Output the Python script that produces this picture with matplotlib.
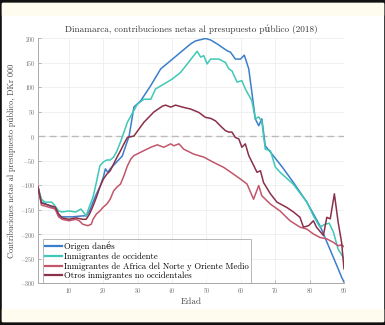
"""Dinamarca: contribuciones netas al presupuesto público por edad (2018)."""
import matplotlib
matplotlib.use("Agg")
import matplotlib.pyplot as plt
from matplotlib.patches import Rectangle

# ── data ──────────────────────────────────────────────────────────────────────
age_dk = [1, 2, 4, 6, 7, 8, 11, 14, 15, 16, 17, 18, 19, 20, 20.6, 21.3, 22, 25.5,
          27.5, 28.9, 30.9, 33.8, 36.7, 39.6, 42.5, 45.4, 46.8, 49.7, 51.2, 53.1,
          56, 57, 58.4, 59.9, 61, 62.3, 63.2, 64.2, 65.2, 66.1, 67.1, 69.4, 72,
          75.2, 79.2, 83, 85.9, 88.3, 89.3, 90]
val_dk = [-104, -135, -141, -149, -163, -165, -165, -163, -163, -153, -135, -118,
          -104, -84, -67, -74, -67, -41, 0, 59, 72, 103, 137, 154, 171, 188, 194,
          199, 196, 188, 174, 171, 157, 157, 165, 137, 89, 35, 21, 35, -20, -40,
          -63, -94, -135, -183, -231, -271, -288, -298]

age_occ = [1, 2, 3, 5, 6, 7, 8, 10, 12, 13.5, 15, 16, 17, 18, 19, 20, 21, 22, 23,
           24, 25, 26, 27, 29.9, 31.8, 33.8, 35.2, 37.6, 40, 42.5, 44.4, 46.3,
           47.3, 48.3, 49.2, 50.2, 51.2, 53.6, 55.5, 56.5, 57.4, 58.9, 60.3,
           61.3, 63.2, 64.2, 65.2, 66.1, 67.1, 68.6, 70, 71.4, 75.2, 79.2, 81.1,
           83, 84.5, 85.7, 86.9, 88.3, 89.8]
val_occ = [-104, -129, -135, -135, -143, -153, -155, -153, -155, -149, -163, -143,
           -125, -94, -61, -53, -49, -49, -43, -30, -12, 8, 28, 65, 75, 75, 96, 106,
           116, 130, 147, 164, 173, 161, 164, 147, 157, 157, 150, 137, 133, 110,
           113, 96, 72, 35, 39, 29, -27, -30, -63, -74, -98, -135, -163, -186,
           -180, -178, -196, -231, -248]

age_mena = [1, 2, 4, 6, 7, 8, 10, 12, 13, 14, 15.5, 16.5, 17, 18, 19, 20, 21, 22,
            23, 24, 25, 26, 27, 28, 28.9, 30.9, 33.8, 35.7, 37.6, 39.6, 40.5, 42,
            43.4, 46.3, 49.2, 52.1, 55, 57.9, 59.9, 61.8, 63.7, 65.2, 66.1, 68.6,
            71.4, 74.3, 77.2, 79.2, 81.1, 83, 85, 86.9, 88.3, 89.3, 90]
val_mena = [-104, -141, -145, -149, -165, -170, -173, -170, -173, -180, -183, -180,
            -170, -159, -153, -145, -139, -129, -112, -104, -98, -81, -61, -47,
            -40, -33, -23, -18, -23, -16, -20, -16, -27, -37, -43, -54, -64, -78,
            -88, -98, -129, -101, -122, -139, -153, -173, -186, -190, -200, -207,
            -210, -217, -224, -222, -226]

age_otros = [1, 2, 4, 6, 7, 8, 10, 12, 14, 15, 16, 17, 18, 19, 20, 21, 22, 23, 24,
             25, 26, 27, 28.9, 31.8, 34.7, 37.2, 38.1, 39.6, 41, 43, 45.4, 47.8,
             49.7, 51.2, 52.6, 54, 55.5, 56.5, 57.4, 58.4, 59.4, 60.3, 61.3, 62.3,
             64.7, 65.7, 66.6, 68.6, 70.5, 73.4, 75.3, 77.2, 78.2, 79.7, 81.1, 82,
             84, 85, 86, 87.2, 88.3, 89.3, 90]
val_otros = [-104, -137, -141, -145, -159, -167, -170, -167, -170, -170, -159, -143,
             -125, -104, -88, -78, -71, -57, -43, -30, -16, -3, 0, 28, 49, 61, 63,
             59, 63, 59, 55, 48, 38, 36, 31, 21, 11, 8, 8, -3, -6, -23, -16, -40,
             -74, -71, -95, -118, -135, -146, -155, -166, -186, -183, -173, -186,
             -203, -166, -169, -118, -176, -217, -271]

LABELS = ["Origen danés", "Inmigrantes de occidente",
          "Inmigrantes de Africa del Norte y Oriente Medio",
          "Otros inmigrantes no occidentales"]
COLORS = ["#3a7fca", "#3fc8b5", "#c2566b", "#8a3049"]

plt.rcParams["font.family"] = ["cmr10", "DejaVu Serif"]
plt.rcParams["axes.formatter.use_mathtext"] = True
plt.rcParams["mathtext.fontset"] = "cm"

fig = plt.figure(figsize=(3.85, 3.25), dpi=100)
fig.patch.set_facecolor("#111111")
# screenshot frame: white page with pale cream bands top and bottom
fig.patches.append(Rectangle((2 / 385, 4 / 325), 381 / 385, 318 / 325,
                             transform=fig.transFigure, color="white", zorder=-3))
fig.patches.append(Rectangle((2 / 385, 310 / 325), 381 / 385, 12 / 325,
                             transform=fig.transFigure, color="#fdfcef", zorder=-2))
fig.patches.append(Rectangle((2 / 385, 4 / 325), 381 / 385, 12 / 325,
                             transform=fig.transFigure, color="#fdfcef", zorder=-2))

ax = fig.add_axes([38 / 385, 42 / 325, 306 / 385, 245 / 325])
ax.set_facecolor("white")

series = [(age_dk, val_dk), (age_occ, val_occ), (age_mena, val_mena),
          (age_otros, val_otros)]
for (x, y), lab, col in zip(series, LABELS, COLORS):
    ax.plot(x, y, color=col, lw=1.1, label=lab, zorder=3)

ax.axhline(0, color="#bbbbbb", lw=1.0, ls=(0, (5, 3)), zorder=2)

ax.set_xlim(1, 90)
ax.set_ylim(-300, 200)
ax.set_xticks(range(10, 91, 10))
ax.set_yticks(range(-300, 201, 50))
ax.grid(color="#eeeeee", lw=0.6)
ax.set_axisbelow(True)
for s in ["top", "right"]:
    ax.spines[s].set_visible(False)
for s in ["left", "bottom"]:
    ax.spines[s].set_color("#aaaaaa")
    ax.spines[s].set_linewidth(0.7)
ax.tick_params(direction="in", length=2, width=0.5, color="#999999",
               labelsize=4.2, labelcolor="#666666", pad=2)

ax.set_title("Dinamarca, contribuciones netas al presupuesto público (2018)",
             fontsize=6.6, color="#333333", pad=4)
ax.set_xlabel("Edad", fontsize=6.6, color="#444444", labelpad=2)
ax.set_ylabel("Contribuciones netas al presupuesto público, DKr 000",
              fontsize=5.9, color="#444444", labelpad=3)

leg = ax.legend(loc="lower left", bbox_to_anchor=(0.015, 0.0), fontsize=6.2,
                frameon=True, fancybox=False, edgecolor="#999999",
                borderaxespad=0, handlelength=2.0, handletextpad=0.2,
                labelspacing=0.15, borderpad=0.3)
leg.get_frame().set_linewidth(0.6)
for line in leg.get_lines():
    line.set_linewidth(1.6)

fig.savefig("out.png", dpi=100, facecolor=fig.get_facecolor())
